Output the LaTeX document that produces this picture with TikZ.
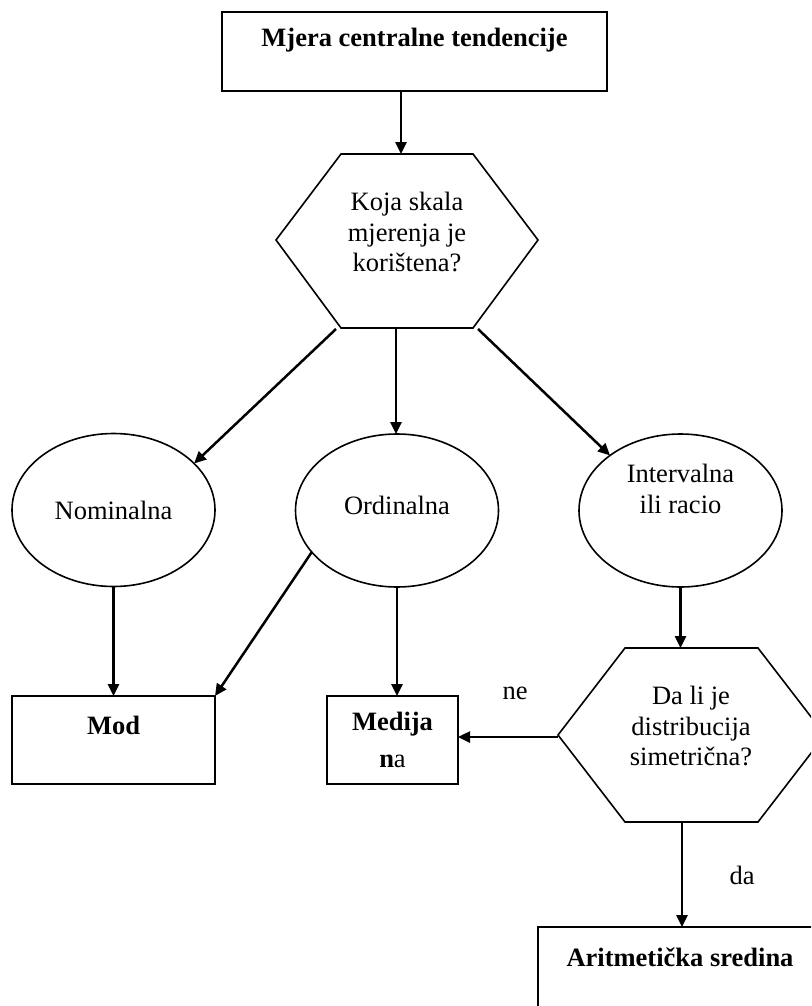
\documentclass[tikz,border=0pt]{standalone}
\usepackage{fontspec}
\setmainfont{Liberation Serif}
\usetikzlibrary{arrows.meta,shapes.geometric}
\begin{document}
\begin{tikzpicture}[x=1pt,y=-1pt,
  every node/.style={font=\fontsize{26.5}{30.5}\selectfont, inner sep=0pt, outer sep=0pt},
  boxstyle/.style={draw, line width=2pt, rectangle},
  ellstyle/.style={draw, ellipse, line width=1.6pt, minimum width=203pt, minimum height=153pt},
  hexline/.style={line width=1.6pt, line join=miter},
  arr/.style={line width=2.5pt, -{Triangle[length=12pt,width=11pt]}},
  txt/.style={align=center}
]
\useasboundingbox (0,0) rectangle (811,1006);
\clip (0,0) rectangle (811,1006);

% top box
\node[boxstyle, minimum width=385pt, minimum height=79pt] (top) at (414.5,51.5) {};
\node (topT) at (414.5,40) {\textbf{Mjera centralne tendencije}};

% hexagon 1
\coordinate (h1a) at (341,154);
\coordinate (h1b) at (473,154);
\coordinate (h1c) at (538,240);
\coordinate (h1d) at (473,328);
\coordinate (h1e) at (341,328);
\coordinate (h1f) at (276,240);
\draw[hexline] (h1a) -- (h1b) -- (h1c) -- (h1d) -- (h1e) -- (h1f) -- cycle;
\node[txt] (hex1T) at (407,232) {Koja skala\\mjerenja je\\korištena?};
\coordinate (h1top) at (401,154);
\coordinate (h1l) at (336,329);
\coordinate (h1m) at (396,329);
\coordinate (h1r) at (478,329);

% ellipses
\node[ellstyle] (nom) at (113.5,510) {Nominalna};
\node[ellstyle] (ord) at (397,510.5) {};
\node (ordT) at (397,505) {Ordinalna};
\node[ellstyle] (int) at (680.5,510.5) {};
\node[txt] (intT) at (680.5,489) {Intervalna\\ili racio};

% bottom boxes
\node[boxstyle, minimum width=203pt, minimum height=88pt] (mod) at (113.5,740) {};
\node (modT) at (113.5,725) {\textbf{Mod}};
\node[boxstyle, minimum width=131pt, minimum height=88pt, txt] (med) at (392.5,740) {\textbf{Medija}\\[6pt]\textbf{n}a};

% hexagon 2
\coordinate (h2a) at (625,648);
\coordinate (h2b) at (758,648);
\coordinate (h2c) at (825,735);
\coordinate (h2d) at (758,822);
\coordinate (h2e) at (625,822);
\coordinate (h2f) at (558,735);
\draw[hexline] (h2a) -- (h2b) -- (h2c) -- (h2d) -- (h2e) -- (h2f) -- cycle;
\node[txt] (hex2T) at (691,726) {Da li je\\distribucija\\simetrična?};
\coordinate (h2top) at (682,648);
\coordinate (h2w) at (558,737);
\coordinate (h2bot) at (682,823);

% final box
\node[boxstyle, minimum width=284pt, minimum height=88pt] (arit) at (680,971) {};
\node (aritT) at (680,957) {\textbf{Aritmetička sredina}};

% labels
\node (ne) at (515,693) {ne};
\node (da) at (742,875) {da};

% connectors
\draw[arr] (top.south -| h1top) -- (h1top);
\draw[arr] (h1l) -- (nom.30);
\draw[arr] (h1m) -- (h1m |- ord.north);
\draw[arr] (h1r) -- (int.142);
\draw[arr] (nom.south) -- (mod.north);
\draw[arr] (ord.206) -- (mod.north east);
\draw[arr] (ord.south) -- (ord.south |- med.north);
\draw[arr] (int.south) -- (int.south |- h2top);
\draw[arr] (h2w) -- (h2w -| med.east);
\draw[arr] (h2bot) -- (h2bot |- arit.north);
\end{tikzpicture}
\end{document}
